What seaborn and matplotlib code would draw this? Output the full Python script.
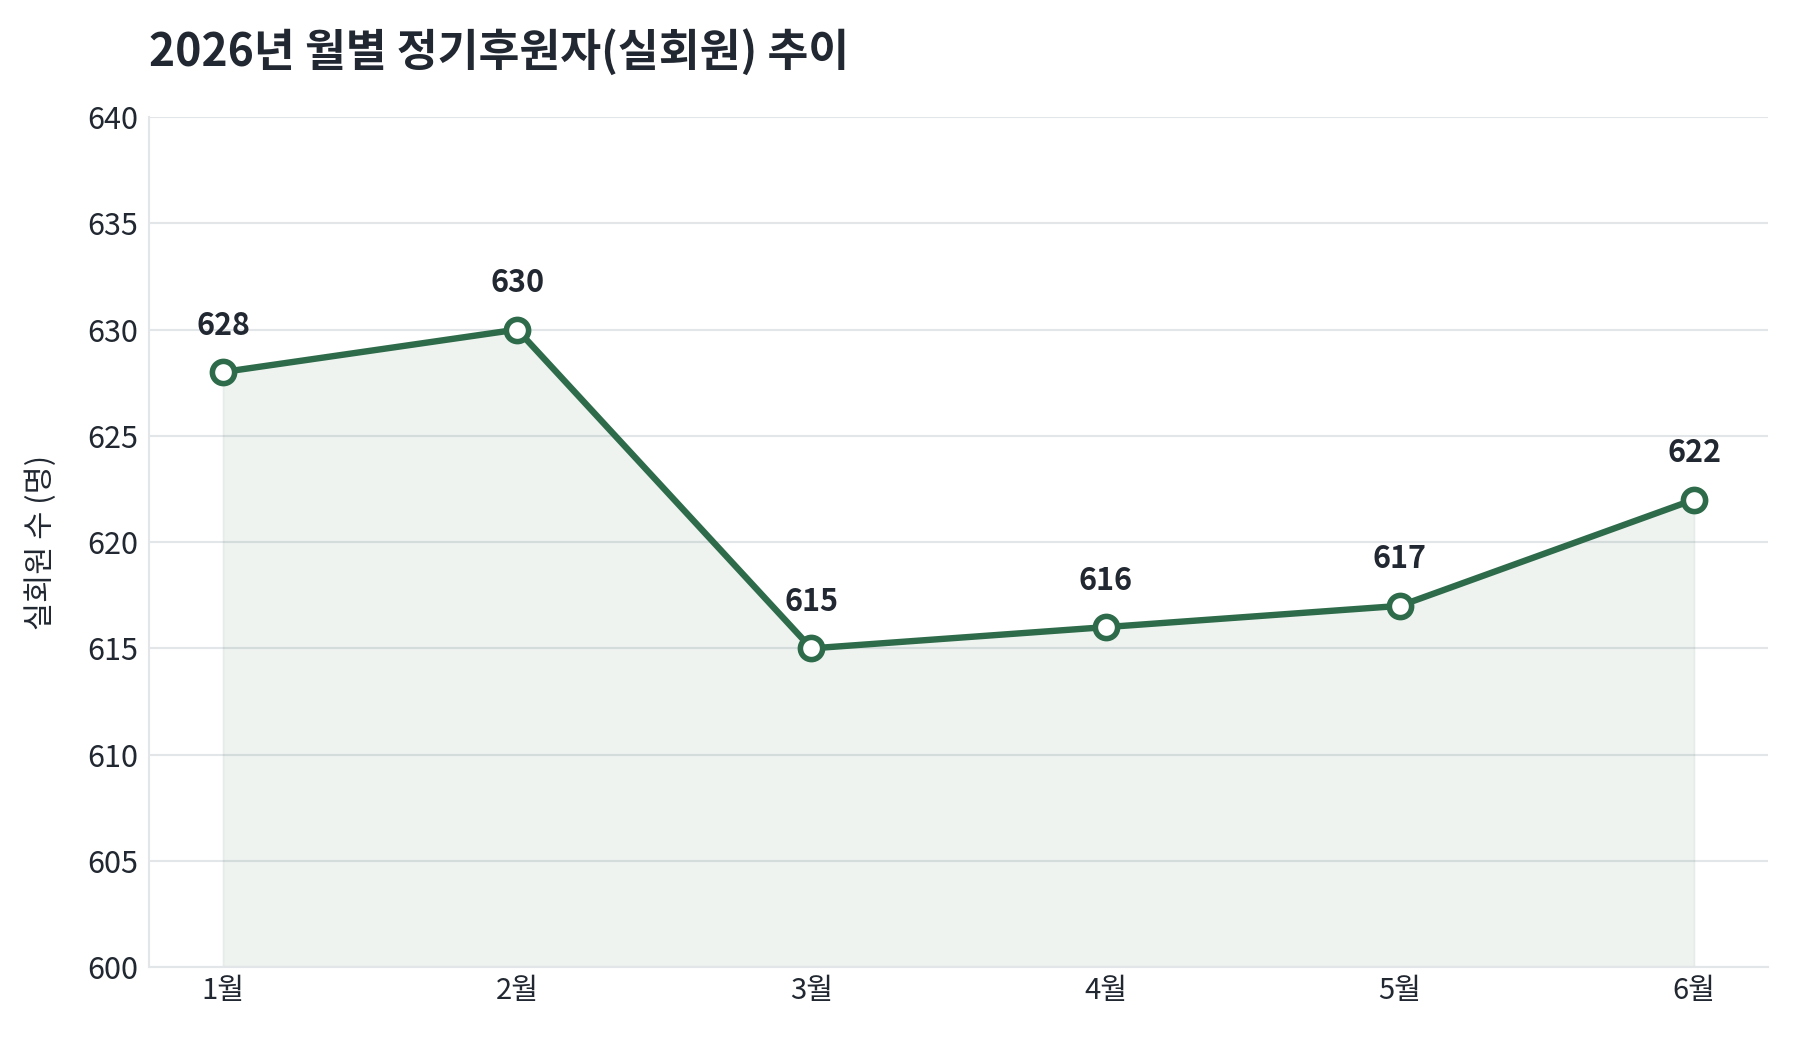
import matplotlib
matplotlib.use("Agg")
import matplotlib.pyplot as plt
import seaborn as sns
import pandas as pd

# data
months = ["1월", "2월", "3월", "4월", "5월", "6월"]
members = [628, 630, 615, 616, 617, 622]
y_ticks = [600, 605, 610, 615, 620, 625, 630, 635, 640]

title = "2026년 월별 정기후원자(실회원) 추이"
y_label = "실회원 수 (명)"

sns.set_theme(style="white")
plt.rcParams['font.family'] = ['Noto Sans CJK KR', 'DejaVu Sans']

green = "#2e6b4a"
grid_c = "#e3e6e8"
text_c = "#222831"

df = pd.DataFrame({"month": months, "members": members})
df["x"] = range(len(df))

fig, ax = plt.subplots(figsize=(18, 10.4), dpi=100)
fig.subplots_adjust(left=0.083, right=0.982, top=0.8875, bottom=0.070)

ax.fill_between(df["x"], 600, df["members"], color=green, alpha=0.08, linewidth=1.2)
sns.lineplot(data=df, x="x", y="members", ax=ax, color=green, linewidth=4.6,
             marker="o", markersize=16, markerfacecolor="white",
             markeredgecolor=green, markeredgewidth=4, zorder=5)

for xi, v in zip(df["x"], df["members"]):
    ax.annotate(str(v), (xi, v), xytext=(0, 27), textcoords="offset points",
                ha="center", va="baseline", fontsize=22, fontweight="bold", color=text_c)

ax.set_xlim(-0.25, 5.25)
ax.set_ylim(600, 640)
ax.set_yticks(y_ticks)
ax.set_xticks(df["x"])
ax.set_xticklabels(months)
ax.tick_params(axis="y", labelsize=22, colors=text_c, length=0, pad=8)
ax.tick_params(axis="x", labelsize=21, colors=text_c, length=0, pad=6)
ax.yaxis.grid(True, color=grid_c, linewidth=1.5)
ax.xaxis.grid(False)
ax.set_axisbelow(True)
ax.set_xlabel("")
ax.set_ylabel(y_label, fontsize=22, color=text_c, labelpad=22)
for s in ["top", "right"]:
    ax.spines[s].set_visible(False)
for s in ["left", "bottom"]:
    ax.spines[s].set_color(grid_c)
    ax.spines[s].set_linewidth(1.5)

fig.text(0.083, 0.950, title, fontsize=32, fontweight="bold", color=text_c,
         ha="left", va="center")

fig.savefig("out.png", dpi=100)
